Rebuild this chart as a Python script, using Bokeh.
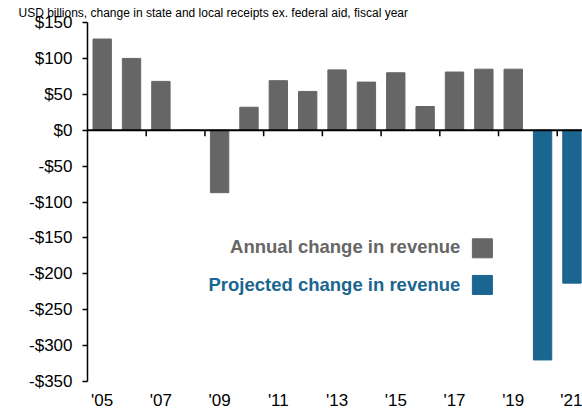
from bokeh.plotting import figure
from bokeh.models import FixedTicker, Span
from bokeh.core.properties import value
from bokeh.embed import file_html
from bokeh.resources import INLINE

# ---- data ----
annual_years = [2005, 2006, 2007, 2008, 2009, 2010, 2011, 2012, 2013, 2014, 2015, 2016, 2017, 2018, 2019]
annual_change = [127, 100, 68, 0, -87, 32, 69, 54, 84, 67, 80, 33, 81, 85, 85]
projected_years = [2020, 2021]
projected_change = [-320, -213]
x_tick_years = [2005, 2007, 2009, 2011, 2013, 2015, 2017, 2019, 2021]
y_ticks = [150, 100, 50, 0, -50, -100, -150, -200, -250, -300, -350]
subtitle = "USD billions, change in state and local receipts ex. federal aid, fiscal year"
legend_labels = ["Annual change in revenue", "Projected change in revenue"]

GRAY = "#666666"
BLUE = "#1a6690"
FONT = "Liberation Sans"

p = figure(width=582, height=412, output_backend="svg", toolbar_location=None,
           x_range=(2004.5, 2021.36), y_range=(-350, 150),
           min_border_left=87, min_border_right=0, min_border_top=22, min_border_bottom=29)
p.outline_line_color = None
p.xgrid.visible = False
p.ygrid.visible = False
p.background_fill_color = "white"
p.border_fill_color = "white"

# subtitle as the plot title
p.title.text = subtitle
p.title.text_font = FONT
p.title.text_font_size = "12px"
p.title.text_font_style = "normal"
p.title.text_color = "black"
p.title.align = "left"
p.title.offset = -69
p.title.standoff = 5

p.vbar(x=annual_years, top=annual_change, width=0.625, color=GRAY)
p.vbar(x=projected_years, top=projected_change, width=0.625, color=BLUE)

# zero line with small ticks between every other year
p.add_layout(Span(location=0, dimension="width", line_color="black", line_width=2))
all_years = annual_years + projected_years
tick_x = [y + 0.5 for y in all_years[1::2]]
p.ray(x=tick_x, y=[0] * len(tick_x), length=6, length_units="screen",
      angle=-1.5708, line_color="black", line_width=1.5)

# y axis
p.yaxis.ticker = FixedTicker(ticks=y_ticks)
p.yaxis.major_label_overrides = {v: ("-$" if v < 0 else "$") + str(abs(v)) for v in y_ticks}
p.yaxis.axis_line_color = "black"
p.yaxis.axis_line_width = 1.5
p.yaxis.major_tick_line_color = "black"
p.yaxis.major_tick_line_width = 1.5
p.yaxis.major_tick_in = 0
p.yaxis.major_tick_out = 5
p.yaxis.minor_tick_line_color = None
p.yaxis.major_label_standoff = 10
p.yaxis.major_label_text_font = FONT
p.yaxis.major_label_text_font_size = "17px"
p.yaxis.major_label_text_color = "black"

# x axis
p.xaxis.ticker = FixedTicker(ticks=x_tick_years)
p.xaxis.major_label_overrides = {y: "'" + str(y)[2:] for y in x_tick_years}
p.xaxis.axis_line_color = None
p.xaxis.major_tick_line_color = None
p.xaxis.minor_tick_line_color = None
p.xaxis.major_tick_in = 0
p.xaxis.major_tick_out = 0
p.xaxis.major_label_standoff = 9
p.xaxis.major_label_text_font = FONT
p.xaxis.major_label_text_font_size = "17px"
p.xaxis.major_label_text_color = "black"

# legend (manual: text on the left, swatch on the right)
p.text(x=[2017.2, 2017.2], y=[-162, -215], text=legend_labels,
       text_align="right", text_baseline="middle",
       text_font=value(FONT), text_font_size="18.5px", text_font_style="bold",
       text_color=[GRAY, BLUE])
p.rect(x=[2017.95, 2017.95], y=[-164.5, -215.5], width=20, height=19,
       width_units="screen", height_units="screen", color=[GRAY, BLUE])

open("out.html", "w").write(file_html(p, INLINE))
